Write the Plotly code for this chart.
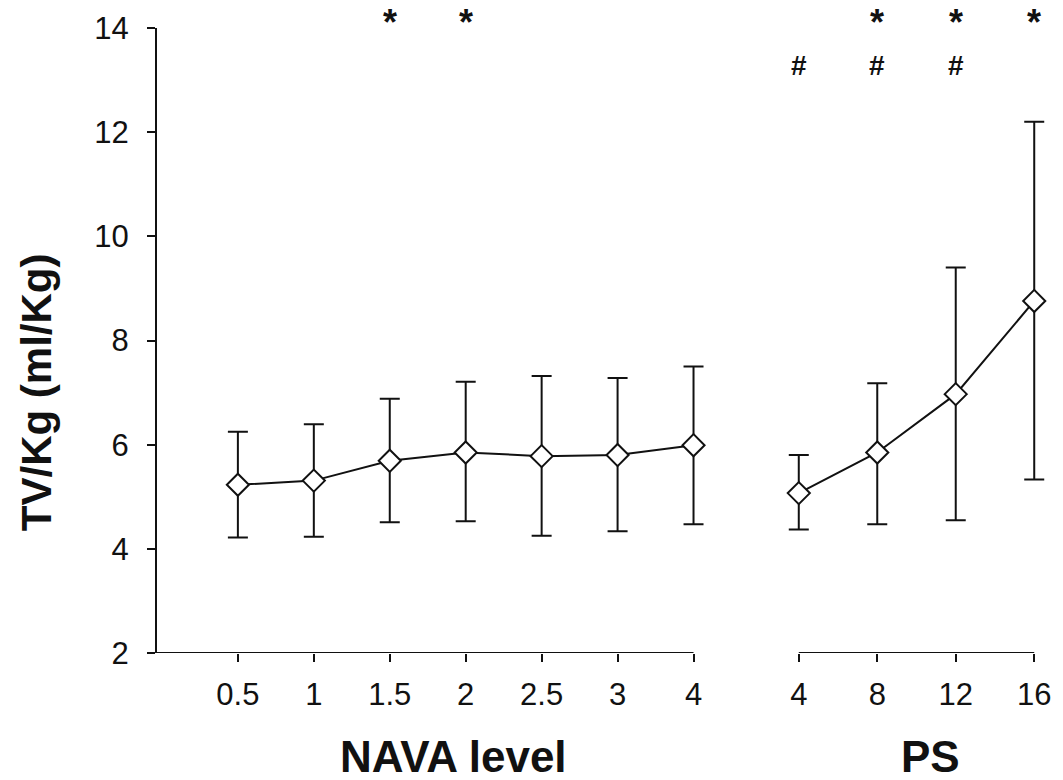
import plotly.graph_objects as go

# NAVA levels (categorical, evenly spaced)
nava_levels = ["0.5", "1", "1.5", "2", "2.5", "3", "4"]
nava_mean = [5.23, 5.31, 5.69, 5.85, 5.78, 5.80, 5.99]
nava_upper = [6.25, 6.39, 6.88, 7.21, 7.32, 7.28, 7.50]
nava_lower = [4.22, 4.23, 4.51, 4.53, 4.25, 4.34, 4.47]

# Pressure support levels
ps_levels = [4, 8, 12, 16]
ps_mean = [5.07, 5.85, 6.97, 8.76]
ps_upper = [5.80, 7.18, 9.40, 12.20]
ps_lower = [4.37, 4.47, 4.55, 5.33]

# Significance marks
star_nava = ["1.5", "2"]
star_ps = [8, 12, 16]
hash_ps = [4, 8, 12]
star_y = 13.93
hash_y = 13.22

FONT = "Liberation Sans, Arial, sans-serif"
NARROW = "Liberation Sans Narrow, Arial Narrow, Liberation Sans, sans-serif"
INK = "#111111"

# x-range bookkeeping: axis lines are drawn as shapes so edge error-bar caps
# are not clipped by the plotting area
NAVA_LEFT = -1.065
NAVA_RIGHT = len(nava_levels) - 1
PAD_CAT = 0.2
PAD_PS_L = 0.8
PAD_PS_R = 0.6
PX_PER_CAT = 76.7
PX_PER_PS = 79 / 4


def err(mean, upper, lower):
    return dict(
        type="data",
        symmetric=False,
        array=[u - m for u, m in zip(upper, mean)],
        arrayminus=[m - l for m, l in zip(mean, lower)],
        color=INK,
        thickness=2,
        width=10,
    )


marker = dict(symbol="diamond", size=17, color="white", line=dict(color=INK, width=2))

fig = go.Figure()
fig.add_trace(go.Scatter(
    x=nava_levels, y=nava_mean, mode="lines+markers",
    line=dict(color=INK, width=2), marker=marker,
    error_y=err(nava_mean, nava_upper, nava_lower),
    xaxis="x", yaxis="y", cliponaxis=False, showlegend=False,
))
fig.add_trace(go.Scatter(
    x=ps_levels, y=ps_mean, mode="lines+markers",
    line=dict(color=INK, width=2), marker=marker,
    error_y=err(ps_mean, ps_upper, ps_lower),
    xaxis="x2", yaxis="y", cliponaxis=False, showlegend=False,
))

axis_common = dict(
    ticks="outside", ticklen=8, tickwidth=2, tickcolor=INK,
    showgrid=False, zeroline=False,
)


def star(x, xref):
    return dict(x=x, y=star_y, xref=xref, yref="y", text="<b>*</b>", showarrow=False,
                font=dict(family=FONT, size=36, color=INK), yanchor="middle", yshift=9)


def hash_mark(x, xref):
    return dict(x=x, y=hash_y, xref=xref, yref="y", text="<b>#</b>", showarrow=False,
                font=dict(family=FONT, size=28, color=INK), yanchor="middle", yshift=3)


annotations = [star(nava_levels.index(c), "x") for c in star_nava]
annotations += [star(v, "x2") for v in star_ps]
annotations += [hash_mark(v, "x2") for v in hash_ps]

annotations += [
    dict(x=-0.136, y=0.4175, xref="paper", yref="paper", text="<b>TV/Kg (ml/Kg)</b>",
         textangle=-90, showarrow=False, font=dict(family=FONT, size=42, color=INK),
         xanchor="center", yanchor="middle"),
    dict(x=0.333, y=-0.165, xref="paper", yref="paper", text="<b>NAVA level</b>",
         showarrow=False, font=dict(family=FONT, size=44, color=INK),
         xanchor="center", yanchor="middle"),
    dict(x=0.870, y=-0.165, xref="paper", yref="paper", text="<b>PS</b>",
         showarrow=False, font=dict(family=FONT, size=44, color=INK),
         xanchor="center", yanchor="middle"),
]

shapes = [
    dict(type="line", xref="x", yref="y", x0=NAVA_LEFT, x1=NAVA_RIGHT, y0=2, y1=2,
         line=dict(color=INK, width=2)),
    dict(type="line", xref="x2", yref="y", x0=ps_levels[0], x1=ps_levels[-1], y0=2, y1=2,
         line=dict(color=INK, width=2)),
]

# pixel geometry of the plotting area
ps_end_px = 1040 + PAD_PS_R * PX_PER_PS
L, T, B = 157, 23, 127
R = 1063 - ps_end_px
W = 1063 - L - R
nava_end_px = 697 + PAD_CAT * PX_PER_CAT
ps_start_px = 803 - PAD_PS_L * PX_PER_PS
nava_dom_end = (nava_end_px - L) / W
ps_dom_start = (ps_start_px - L) / W

fig.update_layout(
    width=1063, height=780,
    margin=dict(l=L, r=R, t=T, b=B),
    paper_bgcolor="white", plot_bgcolor="white",
    xaxis=dict(
        domain=[0, nava_dom_end], type="category", categoryorder="array",
        categoryarray=nava_levels, range=[NAVA_LEFT, NAVA_RIGHT + PAD_CAT],
        tickfont=dict(family=NARROW, size=31, color=INK),
        ticklabelstandoff=6, anchor="y", showline=False, **axis_common,
    ),
    xaxis2=dict(
        domain=[ps_dom_start, 1],
        range=[ps_levels[0] - PAD_PS_L, ps_levels[-1] + PAD_PS_R],
        tickvals=ps_levels,
        tickfont=dict(family=NARROW, size=31, color=INK),
        ticklabelstandoff=6, anchor="y", showline=False, **axis_common,
    ),
    yaxis=dict(
        range=[2, 14], tickvals=[2, 4, 6, 8, 10, 12, 14],
        tickfont=dict(family=FONT, size=31, color=INK),
        ticklabelstandoff=12, anchor="x", showline=True, linecolor=INK, linewidth=2,
        **axis_common,
    ),
    annotations=annotations,
    shapes=shapes,
)

fig.write_html("out.html")
